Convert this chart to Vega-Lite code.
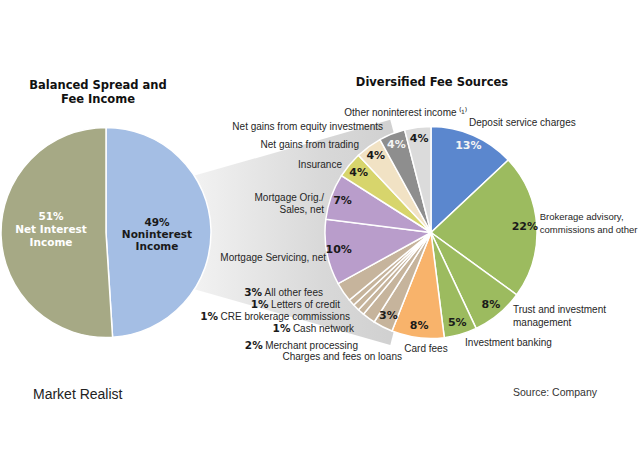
{
  "$schema": "https://vega.github.io/schema/vega-lite/v6.json",
  "width": 640,
  "height": 449,
  "padding": {"left": 0, "right": 0, "top": 8, "bottom": 0},
  "autosize": {"type": "none"},
  "background": "white",
  "config": {
    "view": {"stroke": null},
    "text": {"font": "Liberation Sans", "fontSize": 10, "fill": "#262626", "baseline": "middle"}
  },
  "datasets": {
    "income": [
      {"pie": "left", "order": 1, "category": "Noninterest Income", "value": 49, "label": "49%\nNoninterest\nIncome"},
      {"pie": "left", "order": 2, "category": "Net Interest Income", "value": 51, "label": "51%\nNet Interest\nIncome"}
    ],
    "fees": [
      {"pie": "right", "order": 1, "category": "Deposit service charges", "value": 13, "inner": "13%", "outer": "Deposit service charges", "pct": ""},
      {"pie": "right", "order": 2, "category": "Brokerage advisory, commissions and other", "value": 22, "inner": "22%", "outer": "Brokerage advisory,\ncommissions and other", "pct": ""},
      {"pie": "right", "order": 3, "category": "Trust and investment management", "value": 8, "inner": "8%", "outer": "Trust and investment\nmanagement", "pct": ""},
      {"pie": "right", "order": 4, "category": "Investment banking", "value": 5, "inner": "5%", "outer": "Investment banking", "pct": ""},
      {"pie": "right", "order": 5, "category": "Card fees", "value": 8, "inner": "8%", "outer": "Card fees", "pct": ""},
      {"pie": "right", "order": 6, "category": "Charges and fees on loans", "value": 3, "inner": "3%", "outer": "Charges and fees on loans", "pct": ""},
      {"pie": "right", "order": 7, "category": "Merchant processing", "value": 2, "inner": "", "outer": "Merchant processing", "pct": "2%"},
      {"pie": "right", "order": 8, "category": "Cash network", "value": 1, "inner": "", "outer": "Cash network", "pct": "1%"},
      {"pie": "right", "order": 9, "category": "CRE brokerage commissions", "value": 1, "inner": "", "outer": "CRE brokerage commissions", "pct": "1%"},
      {"pie": "right", "order": 10, "category": "Letters of credit", "value": 1, "inner": "", "outer": "Letters of credit", "pct": "1%"},
      {"pie": "right", "order": 11, "category": "All other fees", "value": 3, "inner": "", "outer": "All other fees", "pct": "3%"},
      {"pie": "right", "order": 12, "category": "Mortgage Servicing, net", "value": 10, "inner": "10%", "outer": "Mortgage Servicing, net", "pct": ""},
      {"pie": "right", "order": 13, "category": "Mortgage Orig./Sales, net", "value": 7, "inner": "7%", "outer": "Mortgage Orig./\nSales, net", "pct": ""},
      {"pie": "right", "order": 14, "category": "Insurance", "value": 4, "inner": "4%", "outer": "Insurance", "pct": ""},
      {"pie": "right", "order": 15, "category": "Net gains from trading", "value": 4, "inner": "4%", "outer": "Net gains from trading", "pct": ""},
      {"pie": "right", "order": 16, "category": "Net gains from equity investments", "value": 4, "inner": "4%", "outer": "Net gains from equity investments", "pct": ""},
      {"pie": "right", "order": 17, "category": "Other noninterest income", "value": 4, "inner": "4%", "outer": "Other noninterest income ⁽¹⁾", "pct": ""}
    ],
    "notes": [
      {"pie": "left", "role": "title", "text": "Balanced Spread and\nFee Income"},
      {"pie": "right", "role": "title", "text": "Diversified Fee Sources"},
      {"pie": "left", "role": "footer", "text": "Market Realist"},
      {"pie": "right", "role": "footer", "text": "Source: Company"}
    ]
  },
  "resolve": {"scale": {"x": "independent", "theta": "independent", "color": "independent"}},
  "layer": [
    {
      "data": {"values": [{"shape": "connector"}]},
      "mark": {
        "type": "arc", "theta": 1.293, "theta2": 1.848, "outerRadius": 411, "stroke": null,
        "fill": {"gradient": "linear", "x1": 0, "y1": 0, "x2": 1, "y2": 0,
          "stops": [{"offset": 0, "color": "#FFFFFF"}, {"offset": 0.46, "color": "#F4F4F4"}, {"offset": 0.8, "color": "#D8D8D8"}, {"offset": 1, "color": "#CFCFCF"}]}
      },
      "encoding": {
        "x": {"datum": "apex", "type": "nominal", "scale": {"type": "point", "domain": ["apex", "right"], "range": [-5, 431], "padding": 0}, "axis": null}
      }
    },
    {
      "data": {"name": "income"},
      "encoding": {
        "x": {"field": "pie", "type": "nominal", "scale": {"type": "point", "domain": ["left", "right"], "range": [106, 431], "padding": 0}, "axis": null},
        "theta": {"field": "value", "type": "quantitative", "stack": true},
        "order": {"field": "order", "type": "quantitative"},
        "detail": {"field": "category", "type": "nominal"}
      },
      "layer": [
        {
          "mark": {"type": "arc", "outerRadius": 105, "stroke": "white", "strokeWidth": 1.5},
          "encoding": {
            "color": {"field": "category", "type": "nominal", "legend": null,
              "scale": {"domain": ["Noninterest Income", "Net Interest Income"], "range": ["#A4BEE4", "#A6A985"]}}
          }
        },
        {
          "mark": {"type": "text", "radius": 51, "dy": -7.9, "font": "DejaVu Sans", "fontWeight": "bold", "fontSize": 10.5, "lineBreak": "\n", "lineHeight": 12, "align": "center", "baseline": "middle", "fill": "#1A1A1A"},
          "encoding": {
            "text": {"condition": {"test": "datum.order === 1", "field": "label", "type": "nominal"}, "value": ""}
          }
        },
        {
          "mark": {"type": "text", "radius": 55, "dy": -17.2, "font": "DejaVu Sans", "fontWeight": "bold", "fontSize": 10.5, "lineBreak": "\n", "lineHeight": 13, "align": "center", "baseline": "middle", "fill": "#FFFFFF"},
          "encoding": {
            "text": {"condition": {"test": "datum.order === 2", "field": "label", "type": "nominal"}, "value": ""}
          }
        }
      ]
    },
    {
      "data": {"name": "fees"},
      "encoding": {
        "x": {"field": "pie", "type": "nominal", "scale": {"type": "point", "domain": ["left", "right"], "range": [106, 431], "padding": 0}, "axis": null},
        "theta": {"field": "value", "type": "quantitative", "stack": true},
        "order": {"field": "order", "type": "quantitative"},
        "detail": {"field": "category", "type": "nominal"}
      },
      "layer": [
        {
          "mark": {"type": "arc", "outerRadius": 106, "stroke": "white", "strokeWidth": 1.5},
          "encoding": {
            "color": {"field": "category", "type": "nominal", "legend": null,
              "scale": {
                "domain": ["Deposit service charges", "Brokerage advisory, commissions and other", "Trust and investment management", "Investment banking", "Card fees", "Charges and fees on loans", "Merchant processing", "Cash network", "CRE brokerage commissions", "Letters of credit", "All other fees", "Mortgage Servicing, net", "Mortgage Orig./Sales, net", "Insurance", "Net gains from trading", "Net gains from equity investments", "Other noninterest income"],
                "range": ["#5B87CE", "#9CBB5F", "#9CBB5F", "#9CBB5F", "#F8B36B", "#C6B49C", "#C6B49C", "#C6B49C", "#C6B49C", "#C6B49C", "#C6B49C", "#B99DCB", "#B99DCB", "#D7D56C", "#F1E2C4", "#8E8E8E", "#DBDBDB"]
              }}
          }
        },
        {
          "mark": {"type": "text", "radius": 94, "font": "DejaVu Sans", "fontWeight": "bold", "fontSize": 11, "align": "center", "baseline": "middle"},
          "encoding": {
            "text": {"field": "inner", "type": "nominal"},
            "color": {"condition": {"test": "datum.order === 1 || datum.order === 16", "value": "#F4F4F4"}, "value": "#1A1A1A"}
          }
        },
        {"mark": {"type": "text", "radius": 112, "align": "left", "dx": -6.5, "dy": -6.7},
         "encoding": {"text": {"condition": {"test": "datum.order === 1", "field": "outer", "type": "nominal"}, "value": ""}}},
        {"mark": {"type": "text", "radius": 112, "align": "left", "dx": -3, "dy": -8.5, "fontSize": 9.5, "lineBreak": "\n", "lineHeight": 13},
         "encoding": {"text": {"condition": {"test": "datum.order === 2", "field": "outer", "type": "nominal"}, "value": ""}}},
        {"mark": {"type": "text", "radius": 112, "align": "left", "dx": 10.6, "dy": -8.3, "lineBreak": "\n", "lineHeight": 12.5},
         "encoding": {"text": {"condition": {"test": "datum.order === 3", "field": "outer", "type": "nominal"}, "value": ""}}},
        {"mark": {"type": "text", "radius": 112, "align": "left", "dx": 2.8, "dy": 2.9},
         "encoding": {"text": {"condition": {"test": "datum.order === 4", "field": "outer", "type": "nominal"}, "value": ""}}},
        {"mark": {"type": "text", "radius": 112, "align": "center", "dx": 9, "dy": 5.4},
         "encoding": {"text": {"condition": {"test": "datum.order === 5", "field": "outer", "type": "nominal"}, "value": ""}}},
        {"mark": {"type": "text", "radius": 112, "align": "right", "dx": 21.8, "dy": 24.7},
         "encoding": {"text": {"condition": {"test": "datum.order === 6", "field": "outer", "type": "nominal"}, "value": ""}}},
        {"mark": {"type": "text", "radius": 112, "align": "right", "dx": -7.2, "dy": 22.9},
         "encoding": {"text": {"condition": {"test": "datum.order === 7", "field": "outer", "type": "nominal"}, "value": ""}}},
        {"mark": {"type": "text", "radius": 112, "align": "right", "dx": -102.5, "dy": 22.9, "font": "DejaVu Sans", "fontWeight": "bold", "fontSize": 10.5, "fill": "#1A1A1A"},
         "encoding": {"text": {"condition": {"test": "datum.order === 7", "field": "pct", "type": "nominal"}, "value": ""}}},
        {"mark": {"type": "text", "radius": 112, "align": "right", "dx": -2.9, "dy": 12.8},
         "encoding": {"text": {"condition": {"test": "datum.order === 8", "field": "outer", "type": "nominal"}, "value": ""}}},
        {"mark": {"type": "text", "radius": 112, "align": "right", "dx": -66.5, "dy": 12.8, "font": "DejaVu Sans", "fontWeight": "bold", "fontSize": 10.5, "fill": "#1A1A1A"},
         "encoding": {"text": {"condition": {"test": "datum.order === 8", "field": "pct", "type": "nominal"}, "value": ""}}},
        {"mark": {"type": "text", "radius": 112, "align": "right", "dx": -1.8, "dy": 5.6},
         "encoding": {"text": {"condition": {"test": "datum.order === 9", "field": "outer", "type": "nominal"}, "value": ""}}},
        {"mark": {"type": "text", "radius": 112, "align": "right", "dx": -133.8, "dy": 5.6, "font": "DejaVu Sans", "fontWeight": "bold", "fontSize": 10.5, "fill": "#1A1A1A"},
         "encoding": {"text": {"condition": {"test": "datum.order === 9", "field": "pct", "type": "nominal"}, "value": ""}}},
        {"mark": {"type": "text", "radius": 112, "align": "right", "dx": -7, "dy": -1.6},
         "encoding": {"text": {"condition": {"test": "datum.order === 10", "field": "outer", "type": "nominal"}, "value": ""}}},
        {"mark": {"type": "text", "radius": 112, "align": "right", "dx": -78.5, "dy": -1.6, "font": "DejaVu Sans", "fontWeight": "bold", "fontSize": 10.5, "fill": "#1A1A1A"},
         "encoding": {"text": {"condition": {"test": "datum.order === 10", "field": "pct", "type": "nominal"}, "value": ""}}},
        {"mark": {"type": "text", "radius": 112, "align": "right", "dx": -15.4, "dy": -2.5},
         "encoding": {"text": {"condition": {"test": "datum.order === 11", "field": "outer", "type": "nominal"}, "value": ""}}},
        {"mark": {"type": "text", "radius": 112, "align": "right", "dx": -76.4, "dy": -2.5, "font": "DejaVu Sans", "fontWeight": "bold", "fontSize": 10.5, "fill": "#1A1A1A"},
         "encoding": {"text": {"condition": {"test": "datum.order === 11", "field": "pct", "type": "nominal"}, "value": ""}}},
        {"mark": {"type": "text", "radius": 112, "align": "right", "dx": 5, "dy": 4.5},
         "encoding": {"text": {"condition": {"test": "datum.order === 12", "field": "outer", "type": "nominal"}, "value": ""}}},
        {"mark": {"type": "text", "radius": 112, "align": "right", "dx": -1.6, "dy": 3, "lineBreak": "\n", "lineHeight": 12.5},
         "encoding": {"text": {"condition": {"test": "datum.order === 13", "field": "outer", "type": "nominal"}, "value": ""}}},
        {"mark": {"type": "text", "radius": 112, "align": "right", "dx": -2.7, "dy": 3.9},
         "encoding": {"text": {"condition": {"test": "datum.order === 14", "field": "outer", "type": "nominal"}, "value": ""}}},
        {"mark": {"type": "text", "radius": 112, "align": "right", "dx": -6.2, "dy": 3.1},
         "encoding": {"text": {"condition": {"test": "datum.order === 15", "field": "outer", "type": "nominal"}, "value": ""}}},
        {"mark": {"type": "text", "radius": 112, "align": "right", "dx": -6.8, "dy": -1.4},
         "encoding": {"text": {"condition": {"test": "datum.order === 16", "field": "outer", "type": "nominal"}, "value": ""}}},
        {"mark": {"type": "text", "radius": 112, "align": "center", "dx": -11.5, "dy": -8.4},
         "encoding": {"text": {"condition": {"test": "datum.order === 17", "field": "outer", "type": "nominal"}, "value": ""}}}
      ]
    },
    {
      "data": {"name": "notes"},
      "transform": [{"filter": "datum.role === 'title' && datum.pie === 'left'"}],
      "mark": {"type": "text", "theta": 0, "radius": 141.5, "dx": -8, "dy": -5, "align": "center", "baseline": "middle", "font": "DejaVu Sans", "fontWeight": "bold", "fontSize": 11.5, "lineBreak": "\n", "lineHeight": 14, "fill": "#111111"},
      "encoding": {
        "x": {"field": "pie", "type": "nominal", "scale": {"type": "point", "domain": ["left", "right"], "range": [106, 431], "padding": 0}, "axis": null},
        "text": {"field": "text", "type": "nominal"}
      }
    },
    {
      "data": {"name": "notes"},
      "transform": [{"filter": "datum.role === 'title' && datum.pie === 'right'"}],
      "mark": {"type": "text", "theta": 0, "radius": 149.5, "dx": 1, "align": "center", "baseline": "middle", "font": "DejaVu Sans", "fontWeight": "bold", "fontSize": 11.5, "fill": "#111111"},
      "encoding": {
        "x": {"field": "pie", "type": "nominal", "scale": {"type": "point", "domain": ["left", "right"], "range": [106, 431], "padding": 0}, "axis": null},
        "text": {"field": "text", "type": "nominal"}
      }
    },
    {
      "data": {"name": "notes"},
      "transform": [{"filter": "datum.role === 'footer' && datum.pie === 'left'"}],
      "mark": {"type": "text", "theta": 3.1416, "radius": 162.5, "dx": -73, "align": "left", "baseline": "middle", "font": "Liberation Sans", "fontSize": 14, "fill": "#222222"},
      "encoding": {
        "x": {"field": "pie", "type": "nominal", "scale": {"type": "point", "domain": ["left", "right"], "range": [106, 431], "padding": 0}, "axis": null},
        "text": {"field": "text", "type": "nominal"}
      }
    },
    {
      "data": {"name": "notes"},
      "transform": [{"filter": "datum.role === 'footer' && datum.pie === 'right'"}],
      "mark": {"type": "text", "theta": 3.1416, "radius": 160.5, "dx": 166, "align": "right", "baseline": "middle", "font": "Liberation Sans", "fontSize": 10.5, "fill": "#333333"},
      "encoding": {
        "x": {"field": "pie", "type": "nominal", "scale": {"type": "point", "domain": ["left", "right"], "range": [106, 431], "padding": 0}, "axis": null},
        "text": {"field": "text", "type": "nominal"}
      }
    }
  ]
}
